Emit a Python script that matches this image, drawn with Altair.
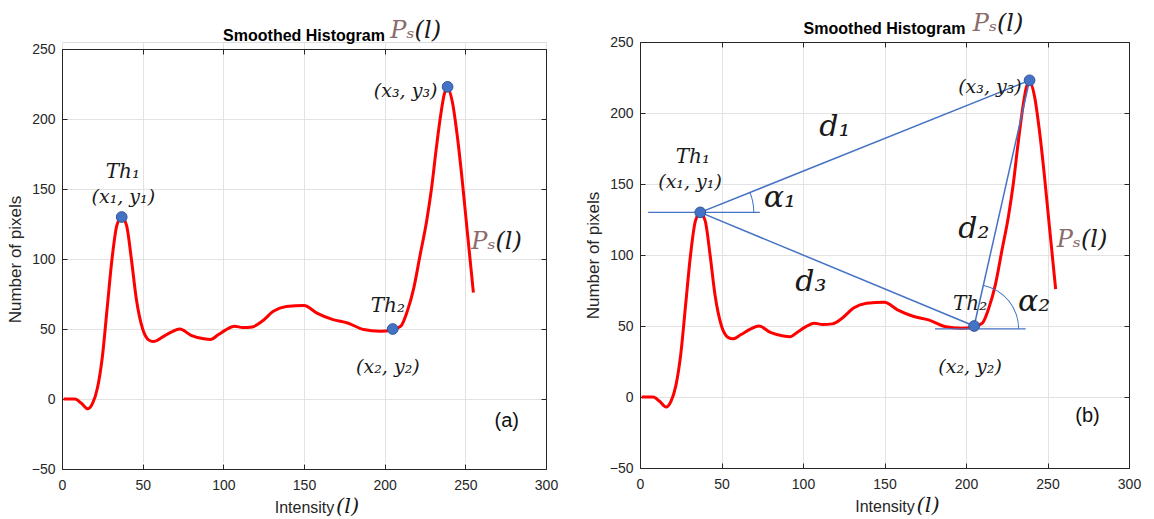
import math
import altair as alt
import pandas as pd

# ---------------- values ----------------
intensity = [1, 4, 8, 12, 16, 19, 22, 25, 28, 31, 34, 37, 40, 43, 46, 50,
             54, 57, 62, 68, 73, 80, 88, 92, 97, 101, 107, 112, 118, 124,
             131, 139, 150, 158, 168, 177, 187, 197, 205, 210, 214, 218,
             222, 226, 229, 232, 235, 237, 239, 242, 245, 248, 251, 255]
pixels = [0, 0, 0, -3, -7, -3, 8, 30, 65, 100, 124, 130, 124, 100, 72, 50,
          42, 41, 44, 48, 50, 45.5, 43, 42.5, 46, 49, 52, 51, 51.5, 55.5,
          62.6, 66, 66.7, 61.4, 56.7, 54.3, 49.6, 48.4, 49.5, 52, 62.6, 79,
          103, 127, 150, 179, 205, 218, 222, 212, 188, 157, 122, 76]

x_ticks = [0, 50, 100, 150, 200, 250, 300]
y_ticks = [-50, 0, 50, 100, 150, 200, 250]

key_l = [37, 205, 239]      # Th1, Th2, (x3, y3)
key_v = [130, 50, 223]

seg_from = [0, 0, 1]        # d1, d3, d2
seg_to = [2, 1, 2]

hline_l = [5, 181]
hline_l2 = [73.5, 236.6]
hline_v = [130, 48]

a_text = ["Th₁", "(x₁, y₁)", "(x₃, y₃)", "Th₂", "(x₂, y₂)"]
a_l = [37.7, 38, 213, 202, 202]
a_v = [162, 144.5, 220, 66.6, 23]
a_size = [20, 19, 19, 20, 19]

b_text = ["Th₁", "(x₁, y₁)", "(x₃, y₃)", "Th₂", "(x₂, y₂)",
          "d₁", "d₂", "d₃", "α₁", "α₂"]
b_l = [32.4, 30.7, 214.7, 202.5, 202.5, 119.6, 204.8, 104.8, 85.8, 241.8]
b_v = [169, 151.4, 218.5, 65.7, 21, 190, 118.6, 81, 140, 67]
b_size = [20, 19, 19, 20, 19, 30, 30, 30, 30, 30]

title_text = "Smoothed Histogram"

# ---------------- style ----------------
AX = "#262626"
RED = "#ff0000"
BLUE = "#4472c4"
BROWN = "#8b6b6b"
GRID = "#e3e3e3"
SANS = "Liberation Sans"
SERIF = "DejaVu Serif"

curve = pd.DataFrame({"l": intensity, "v": pixels})
pts = pd.DataFrame({"l": key_l, "v": key_v})
segs = pd.DataFrame({
    "l": [key_l[i] for i in seg_from], "v": [key_v[i] for i in seg_from],
    "l2": [key_l[i] for i in seg_to], "v2": [key_v[i] for i in seg_to],
})
hlines = pd.DataFrame({"l": hline_l, "l2": hline_l2, "v": hline_v})


def panel(W, H, top, lab_text, lab_l, lab_v, lab_size, ps_pos, tag, tag_pos,
          title_ps_x, title_ps_y, triangle):
    HV = H + top                      # view height; plot frame spans top..HV
    xs = alt.Scale(domain=[0, 300], nice=False, zero=False)
    ys = alt.Scale(domain=[-50, 250], nice=False, zero=False, range=[HV, top])

    def X(axis=None, field="l:Q"):
        return alt.X(field, scale=xs, axis=axis)

    def Y(axis=None, field="v:Q"):
        return alt.Y(field, scale=ys, axis=axis)

    main_x = alt.Axis(values=x_ticks, title="Intensity", grid=True, gridColor=GRID,
                      domain=False, ticks=False, tickSize=0, labelFont=SANS,
                      labelFontSize=14, labelColor=AX, labelPadding=9,
                      labelFlush=False, labelOverlap=False, titleFont=SANS,
                      titleFontSize=16, titleFontWeight="normal", titleColor=AX,
                      titlePadding=7)
    main_y = alt.Axis(values=y_ticks, title="Number of pixels", grid=True,
                      gridColor=GRID, domain=False, ticks=False, tickSize=0,
                      labelFont=SANS, labelFontSize=14, labelColor=AX,
                      labelPadding=7, labelFlush=False, labelOverlap=False,
                      titleFont=SANS, titleFontSize=17, titleFontWeight="normal",
                      titleColor=AX, titlePadding=7)

    def frame_axis(vals, orient, off):
        return alt.Axis(values=vals, orient=orient, offset=off, labels=False,
                        grid=False, domain=True, domainColor=AX, domainWidth=1,
                        ticks=True, tickSize=5, tickColor=AX, title=None)

    layers = []
    layers.append(alt.Chart(curve).mark_line(color=RED, strokeWidth=3,
                                             interpolate="monotone")
                  .encode(x=X(main_x), y=Y(main_y)))
    # box with inward ticks on all four sides
    layers.append(alt.Chart(pts).mark_point(opacity=0).encode(
        x=X(frame_axis(x_ticks, "top", -HV)), y=Y(frame_axis(y_ticks, "right", -W))))
    layers.append(alt.Chart(pts).mark_point(opacity=0).encode(
        x=X(frame_axis(x_ticks, "bottom", -H)), y=Y(frame_axis(y_ticks, "left", -W))))

    if triangle:
        layers.append(alt.Chart(segs).mark_rule(color=BLUE, strokeWidth=1.5).encode(
            x=X(), y=Y(), x2="l2:Q", y2="v2:Q"))
        layers.append(alt.Chart(hlines).mark_rule(color=BLUE, strokeWidth=1.2).encode(
            x=X(), x2="l2:Q", y=Y()))
        # angle arcs (theta measured clockwise from 12 o'clock, in radians)
        pxu = W / 300.0
        pyu = H / 300.0
        a1 = math.atan2((key_v[2] - key_v[0]) * pyu, (key_l[2] - key_l[0]) * pxu)
        a2 = math.atan2((key_v[2] - key_v[1]) * pyu, (key_l[2] - key_l[1]) * pxu)
        for idx, ang, r in [(0, a1, 54), (1, a2, 45)]:
            d = pd.DataFrame({"l": [key_l[idx]], "v": [hline_v[idx]]})
            layers.append(alt.Chart(d).mark_arc(
                radius=r, radius2=r - 1, theta=math.pi / 2 - ang,
                theta2=math.pi / 2, color=BLUE).encode(x=X(), y=Y()))

    layers.append(alt.Chart(pts).mark_circle(size=115, fill=BLUE, stroke="#2f5597",
                                             strokeWidth=1, opacity=1)
                  .encode(x=X(), y=Y()))

    labs = pd.DataFrame({"t": lab_text, "l": lab_l, "v": lab_v, "s": lab_size})
    layers.append(alt.Chart(labs).mark_text(font=SERIF, fontStyle="italic",
                                            color="#1a1a1a", baseline="middle",
                                            align="center")
                  .encode(x=X(), y=Y(), text="t:N", size=alt.Size("s:Q", scale=None)))

    ps = pd.DataFrame({"l": [ps_pos[0]], "v": [ps_pos[1]]})
    layers.append(alt.Chart(ps).mark_text(text="Pₛ", font=SERIF, fontStyle="italic",
                                          fontSize=24, color=BROWN, align="right",
                                          baseline="middle").encode(x=X(), y=Y()))
    layers.append(alt.Chart(ps).mark_text(text="(l)", font=SERIF, fontStyle="italic",
                                          fontSize=24, color="#1a1a1a", align="left",
                                          baseline="middle").encode(x=X(), y=Y()))

    tg = pd.DataFrame({"l": [tag_pos[0]], "v": [tag_pos[1]]})
    layers.append(alt.Chart(tg).mark_text(text=tag, font=SANS, fontSize=20,
                                          color="#111111", baseline="middle",
                                          align="center").encode(x=X(), y=Y()))

    # title and axis-title extras outside the plot frame
    one = pd.DataFrame({"k": [0]})
    layers.append(alt.Chart(one).mark_text(text=title_text, font=SANS, fontSize=16,
                                           fontWeight="bold", color="black",
                                           align="center", baseline="middle")
                  .encode(x=alt.value(W / 2), y=alt.value(top - 13)))
    layers.append(alt.Chart(one).mark_text(text="Pₛ", font=SERIF, fontStyle="italic",
                                           fontSize=24, color=BROWN, align="right",
                                           baseline="middle")
                  .encode(x=alt.value(title_ps_x), y=alt.value(top + title_ps_y)))
    layers.append(alt.Chart(one).mark_text(text="(l)", font=SERIF, fontStyle="italic",
                                           fontSize=24, color="#1a1a1a", align="left",
                                           baseline="middle")
                  .encode(x=alt.value(title_ps_x), y=alt.value(top + title_ps_y)))
    layers.append(alt.Chart(one).mark_text(text="(l)", font=SERIF, fontStyle="italic",
                                           fontSize=21, color="#1a1a1a", align="left",
                                           baseline="middle")
                  .encode(x=alt.value(W / 2 + 32), y=alt.value(HV + 38)))

    return (alt.layer(*layers)
            .resolve_axis(x="independent", y="independent")
            .properties(width=W, height=HV))


left = panel(484, 420, 7, a_text, a_l, a_v, a_size, (268.7, 112), "(a)",
             (275.7, -15.5), 352.6, -17.6, False)
right = panel(489, 426, 0, b_text, b_l, b_v, b_size, (270.5, 110.6), "(b)",
              (274.5, -13.4), 357, -18, True)

chart = (alt.hconcat(left, right, spacing=24)
         .properties(padding={"left": 5, "top": 11, "right": 5, "bottom": 2})
         .configure_view(stroke="transparent")
         .configure(background="white"))

chart.save("out.html", embed_options={"renderer": "svg", "actions": False})
